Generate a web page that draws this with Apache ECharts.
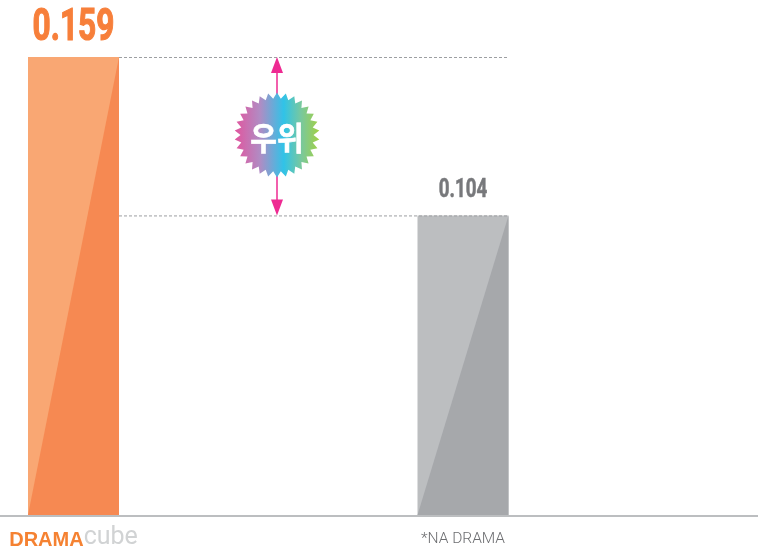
<!DOCTYPE html>
<html>
<head>
<meta charset="utf-8">
<style>
  html, body { margin: 0; padding: 0; background: #fff; }
  #chart { width: 760px; height: 549px; }
</style>
<script src="https://cdn.jsdelivr.net/npm/echarts@6/dist/echarts.min.js"></script>
</head>
<body>
<div id="chart"></div>
<script>
// 값은 그림에서 읽은 것
const categories = ['DRAMAcube', '*NA DRAMA']
const values = [0.159, 0.104]
const badgeText = '우위'

const barLook = [
  { light: '#f9a773', dark: '#f68952', text: '#f77f3a', size: 44, gap: 6, scaleX: 0.72, heavy: 1.2 },
  { light: '#bcbec0', dark: '#a6a8ab', text: '#77787b', size: 26, gap: 12, scaleX: 0.72, heavy: 0.6 }
]
const halfBar = 45.5
const pink = '#ee2a92'
const font = 'Roboto, sans-serif'

function renderBar(params, api) {
  const i = api.value(0)
  const v = api.value(1)
  const top = api.coord([i, v])
  const base = api.coord([i, 0])
  const look = barLook[i]
  const x0 = top[0] - halfBar
  const x1 = top[0] + halfBar
  return {
    type: 'group',
    children: [
      { type: 'rect', shape: { x: x0, y: top[1], width: x1 - x0, height: base[1] - top[1] }, style: { fill: look.light } },
      { type: 'polygon', shape: { points: [[x0, base[1]], [x1, top[1]], [x1, base[1]]] }, style: { fill: look.dark } },
      {
        type: 'text',
        x: top[0],
        y: top[1] - look.gap,
        scaleX: look.scaleX,
        style: {
          text: v.toFixed(3),
          fill: look.text,
          stroke: look.text,
          lineWidth: look.heavy,
          font: 'bold ' + look.size + 'px ' + font,
          textAlign: 'center',
          textVerticalAlign: 'bottom'
        }
      }
    ]
  }
}

// 두 막대 높이 차이: 점선, 화살표, 배지
function renderGap(params, api) {
  const a = api.coord([0, values[0]])
  const b = api.coord([1, values[1]])
  const xEnd = b[0] + halfBar
  const xStart = a[0] + halfBar
  const mx = 277
  const dash = { stroke: '#9d9fa2', lineWidth: 1, lineDash: [3, 2] }
  const points = []
  const n = 30
  const cx = mx
  const cy = 135
  for (let k = 0; k < n * 2; k++) {
    const r = k % 2 === 0 ? 42.5 : 36.5
    const t = (k / (n * 2)) * Math.PI * 2 - Math.PI / 2
    points.push([cx + r * Math.cos(t), cy + r * Math.sin(t)])
  }
  return {
    type: 'group',
    children: [
      { type: 'line', shape: { x1: xStart, y1: a[1] + 0.5, x2: xEnd, y2: a[1] + 0.5 }, style: dash },
      { type: 'line', shape: { x1: xStart, y1: b[1] + 0.5, x2: xEnd, y2: b[1] + 0.5 }, style: dash },
      { type: 'line', shape: { x1: mx, y1: a[1] + 8, x2: mx, y2: b[1] - 8 }, style: { stroke: pink, lineWidth: 1.5 } },
      { type: 'polygon', shape: { points: [[mx, a[1]], [mx + 6, a[1] + 16], [mx - 6, a[1] + 16]] }, style: { fill: pink } },
      { type: 'polygon', shape: { points: [[mx, b[1]], [mx + 6, b[1] - 16], [mx - 6, b[1] - 16]] }, style: { fill: pink } },
      {
        type: 'polygon',
        shape: { points: points },
        style: {
          fill: new echarts.graphic.LinearGradient(0, 0, 1, 0, [
            { offset: 0, color: '#e2559e' },
            { offset: 0.3, color: '#b08cc4' },
            { offset: 0.58, color: '#30c3e8' },
            { offset: 0.78, color: '#77c8a0' },
            { offset: 1, color: '#a3d044' }
          ])
        }
      },
      {
        type: 'text',
        x: cx,
        y: cy + 3,
        scaleY: 1.1,
        style: {
          text: badgeText,
          fill: '#fff',
          stroke: '#fff',
          lineWidth: 0.6,
          font: 'bold 29px "Noto Sans CJK KR", sans-serif',
          textAlign: 'center',
          textVerticalAlign: 'middle'
        }
      }
    ]
  }
}

const chart = echarts.init(document.getElementById('chart'))
chart.setOption({
  animation: false,
  backgroundColor: '#fff',
  // 막대 중심 73.5 / 463 에 맞춘 격자
  grid: { left: -121.25, width: 779, top: 57, bottom: 34, outerBoundsMode: 'none' },
  xAxis: {
    type: 'category',
    data: categories,
    axisLine: { show: false },
    axisTick: { show: false },
    axisLabel: {
      margin: 10,
      interval: 0,
      formatter: function(name) {
        return name === 'DRAMAcube' ? '{a|DRAMA}{b|cube}' : '{c|' + name + '}'
      },
      rich: {
        a: { fontFamily: 'Liberation Sans, sans-serif', fontWeight: 'bold', fontSize: 20, color: '#f58232', verticalAlign: 'bottom' },
        b: { fontFamily: font, fontWeight: 400, fontSize: 25, color: '#d1d3d4', verticalAlign: 'bottom' },
        c: { fontFamily: font, fontWeight: 300, fontSize: 15.5, color: '#6d6e71', padding: [6, 0, 0, 0] }
      }
    }
  },
  yAxis: { type: 'value', min: 0, max: 0.159, show: false },
  graphic: [
    { type: 'line', shape: { x1: 0, y1: 516, x2: 758, y2: 516 }, style: { stroke: '#bcbec0', lineWidth: 2 }, silent: true }
  ],
  series: [
    { type: 'custom', renderItem: renderGap, data: [[0, values[0]]], encode: { x: 0, y: 1 }, silent: true, z: 3 },
    { type: 'custom', renderItem: renderBar, data: values.map((v, i) => [i, v]), encode: { x: 0, y: 1 }, silent: true, z: 2 }
  ]
})
</script>
</body>
</html>
